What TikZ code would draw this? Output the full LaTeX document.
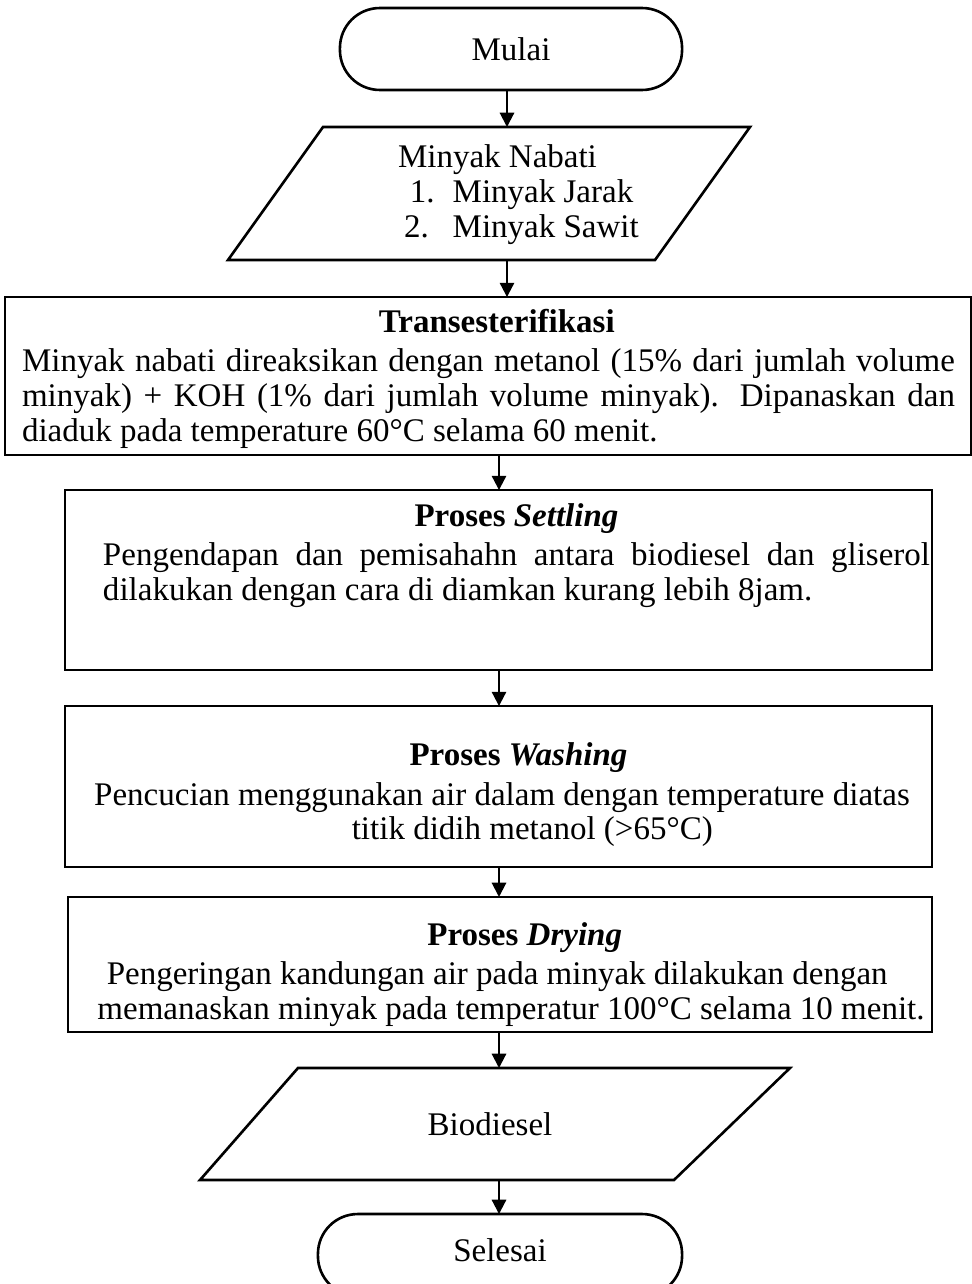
\documentclass[tikz,border=0pt]{standalone}
\usepackage{fontspec}
\setmainfont{Liberation Serif}
\usetikzlibrary{arrows.meta}
\begin{document}
\begin{tikzpicture}[x=0.3636pt,y=-0.3636pt,
  every node/.style={font=\fontsize{12}{12.7}\selectfont, inner sep=0pt, outer sep=0pt},
  shapeline/.style={draw, line width=0.95pt},
  termbox/.style={shapeline, rounded corners=14.5pt},
  procbox/.style={shapeline},
  arr/.style={-{Triangle[length=5.2pt,width=5.2pt]}, line width=0.75pt},
  txt/.style={align=center}
]
\useasboundingbox (0,0) rectangle (972,1284);

% axes for connectors
\coordinate (ax1) at (507,0);
\coordinate (ax2) at (499,0);

% Mulai
\node[termbox, minimum width=124.4pt, minimum height=29.8pt] (mulai) at (511,49) {};
\node (mulaitxt) at (511,49) {Mulai};

% Input parallelogram
\coordinate (p1a) at (323,127);
\coordinate (p1b) at (750,127);
\coordinate (p1c) at (655,260);
\coordinate (p1d) at (228,260);
\draw[shapeline] (p1a) -- (p1b) -- (p1c) -- (p1d) -- cycle;
\coordinate (p1top) at (507,127);
\coordinate (p1bot) at (507,260);
\node[anchor=west, align=left] (input) at (398,195)
  {Minyak Nabati\\[0pt]
   \hspace*{4.3pt}\makebox[15.6pt][l]{1.}Minyak Jarak\\
   \hspace*{2.2pt}\makebox[17.7pt][l]{2.}Minyak Sawit};

% Transesterifikasi
\node[procbox, minimum width=351.2pt, minimum height=57.4pt] (trans) at (488,376) {};
\node[text width=339.2pt, align=justify] (transtxt) at (488.5,379)
  {\centerline{\hspace*{6pt}\textbf{Transesterifikasi}}\vspace{1.5pt}
   Minyak nabati direaksikan dengan metanol (15\% dari jumlah volume\linebreak
   minyak) + KOH (1\% dari jumlah volume minyak). Dipanaskan dan\linebreak
   diaduk pada temperature 60°C selama 60 menit.};

% Settling
\node[procbox, minimum width=315.2pt, minimum height=65.4pt] (settle) at (498.5,580) {};
\node[text width=300.7pt, align=justify] (settletxt) at (516.5,556)
  {\centerline{\textbf{Proses \textit{Settling}}}\vspace{1.5pt}
   Pengendapan dan pemisahahn antara biodiesel dan gliserol\linebreak
   dilakukan dengan cara di diamkan kurang lebih 8jam.};

% Washing
\node[procbox, minimum width=315.2pt, minimum height=58.5pt] (wash) at (498.5,786.5) {};
\node[txt] (washtxt) at (502,795)
  {\hspace*{12pt}\textbf{Proses \textit{Washing}}\\[1.5pt]
   Pencucian menggunakan air dalam dengan temperature diatas\\
   \hspace*{22pt}titik didih metanol (>65°C)};

% Drying
\node[procbox, minimum width=314.2pt, minimum height=49.1pt] (dry) at (500,964.5) {};
\node[txt] (drytxt) at (511,975)
  {\hspace*{10pt}\textbf{Proses \textit{Drying}}\\[1.5pt]
   \hspace*{-10pt}Pengeringan kandungan air pada minyak dilakukan dengan\\
   memanaskan minyak pada temperatur 100°C selama 10 menit.};

% Output parallelogram
\coordinate (p2a) at (298,1068);
\coordinate (p2b) at (790,1068);
\coordinate (p2c) at (674,1180);
\coordinate (p2d) at (200,1180);
\draw[shapeline] (p2a) -- (p2b) -- (p2c) -- (p2d) -- cycle;
\coordinate (p2top) at (499,1068);
\coordinate (p2bot) at (499,1180);
\node (output) at (490,1124) {Biodiesel};

% Selesai
\node[termbox, minimum width=132.4pt, minimum height=29.8pt] (selesai) at (500,1255) {};
\node (selesaitxt) at (500,1250) {Selesai};

% connectors
\draw[arr] (mulai.south -| ax1) -- (p1top);
\draw[arr] (p1bot) -- (trans.north -| ax1);
\draw[arr] (trans.south -| ax2) -- (settle.north -| ax2);
\draw[arr] (settle.south -| ax2) -- (wash.north -| ax2);
\draw[arr] (wash.south -| ax2) -- (dry.north -| ax2);
\draw[arr] (dry.south -| ax2) -- (p2top);
\draw[arr] (p2bot) -- (selesai.north -| ax2);
\end{tikzpicture}
\end{document}
